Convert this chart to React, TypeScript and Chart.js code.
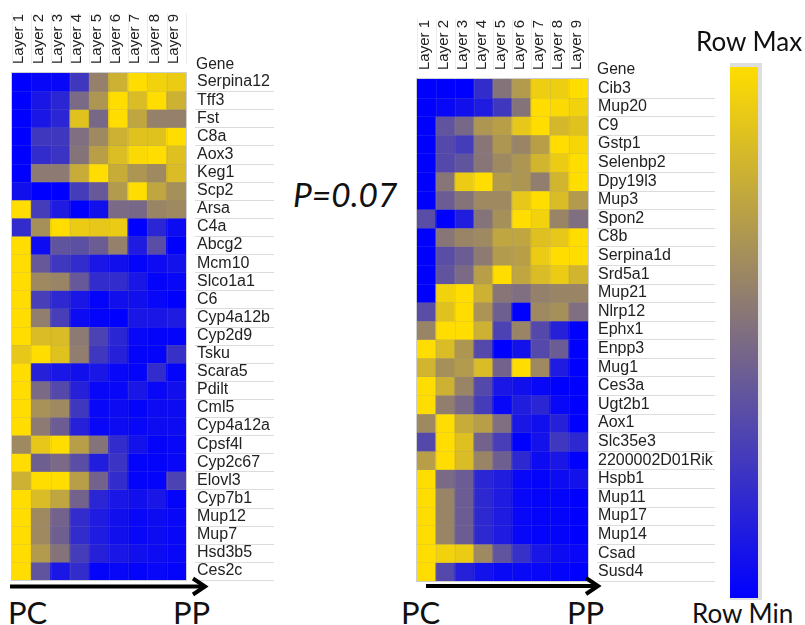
import React, { useEffect, useRef } from "react";
import { Chart, registerables } from "chart.js";

Chart.register(...registerables);

const layers = ["Layer 1", "Layer 2", "Layer 3", "Layer 4", "Layer 5", "Layer 6", "Layer 7", "Layer 8", "Layer 9"];

const leftGenes = ["Serpina12", "Tff3", "Fst", "C8a", "Aox3", "Keg1", "Scp2", "Arsa", "C4a", "Abcg2", "Mcm10", "Slco1a1", "C6", "Cyp4a12b", "Cyp2d9", "Tsku", "Scara5", "Pdilt", "Cml5", "Cyp4a12a", "Cpsf4l", "Cyp2c67", "Elovl3", "Cyp7b1", "Mup12", "Mup7", "Hsd3b5", "Ces2c"];

const leftValues = [
  [0, .03, .03, .25, .58, .8, 1, .95, .92],
  [0, .1, .17, .48, .68, 1, .85, 1, .8],
  [0, .1, .17, .88, .47, 1, .75, .58, .58],
  [0, .25, .25, .5, .62, .8, .88, .88, 1],
  [0, .2, .23, .52, .72, .86, .98, 1, .87],
  [0, .55, .55, .78, 1, .78, .68, .62, .85],
  [.07, 0, 0, .27, .4, .7, 1, .75, .65],
  [1, .27, .12, 0, .07, .48, .47, .6, .62],
  [.2, .65, 1, .92, .9, .92, 0, .17, .05],
  [1, .05, .38, .36, .42, .58, .12, .35, 0],
  [1, .4, .25, .2, .1, .07, .02, .05, .08],
  [1, .62, .6, .4, .2, .2, .1, .02, .03],
  [1, .28, .18, .1, .02, .07, .07, .03, 0],
  [1, .57, .28, .05, .02, 0, .1, .1, .12],
  [1, .85, .85, .55, .3, .17, .03, .02, .02],
  [.9, 1, .88, .57, .25, .15, .02, .02, .22],
  [1, .15, .1, .07, .1, .03, .02, .2, .02],
  [1, .48, .33, .15, .03, .03, .1, .03, .07],
  [1, .66, .62, .25, .03, .05, .02, .05, .05],
  [1, .55, .42, .15, .03, .05, .03, .05, .05],
  [.62, .9, 1, .72, .52, .2, .08, .02, .03],
  [1, .43, .48, .35, .13, .23, .02, .02, .03],
  [.8, 1, 1, .72, .45, .2, .02, .02, .3],
  [1, .85, .75, .45, .17, .1, .07, .1, .02],
  [1, .62, .45, .2, .12, .07, .03, .05, .03],
  [1, .62, .43, .2, .12, .07, .03, .05, .03],
  [1, .7, .52, .27, .15, .1, .07, .05, .03],
  [1, .38, .1, .2, .02, .03, .02, .03, .02],
];

const rightGenes = ["Cib3", "Mup20", "C9", "Gstp1", "Selenbp2", "Dpy19l3", "Mup3", "Spon2", "C8b", "Serpina1d", "Srd5a1", "Mup21", "Nlrp12", "Ephx1", "Enpp3", "Mug1", "Ces3a", "Ugt2b1", "Aox1", "Slc35e3", "2200002D01Rik", "Hspb1", "Mup11", "Mup17", "Mup14", "Csad", "Susd4"];

const rightValues = [
  [0, 0, 0, .2, .52, .7, .93, .93, 1],
  [0, .03, .07, .12, .25, .52, 1, .98, .95],
  [0, .38, .47, .68, .72, .9, 1, .83, .88],
  [0, .33, .27, .53, .68, .6, .72, 1, .97],
  [0, .33, .38, .53, .62, .68, .82, .92, 1],
  [0, .53, .92, 1, .7, .68, .57, .82, 1],
  [0, .42, .52, .62, .62, .9, 1, .85, .7],
  [.35, 0, .13, .52, .65, 1, .95, .6, .5],
  [0, .53, .6, .62, .75, .75, .87, .9, 1],
  [0, .35, .42, .55, .7, .72, .92, 1, 1],
  [0, .38, .48, .72, 1, .75, .85, .92, .82],
  [0, .95, 1, .8, .53, .5, .58, .6, .6],
  [.35, .88, 1, .67, .43, 0, .62, .65, .5],
  [.6, 1, 1, .8, .3, .6, .33, .15, 0],
  [1, .85, .68, .33, 0, .08, .33, .42, 0],
  [.82, .65, .7, .85, .45, 1, .62, .12, 0],
  [1, .8, .6, .33, .1, .07, .03, 0, 0],
  [1, .57, .47, .27, .03, .13, .17, .03, 0],
  [.62, 1, .78, .72, .5, .1, .07, .15, 0],
  [.33, 1, .87, .45, .28, 0, .08, .25, .18],
  [.72, 1, .85, .6, .43, .18, .05, .1, 0],
  [1, .48, .42, .17, .13, .03, .02, .05, .08],
  [1, .6, .42, .18, .12, .03, .02, .02, 0],
  [1, .6, .42, .18, .12, .03, .02, .02, 0],
  [1, .6, .42, .18, .12, .03, .02, .02, 0],
  [1, .95, .92, .62, .38, .22, .1, .05, .03],
  [1, .33, .15, .08, .04, .04, .03, .02, 0],
];

const BLUE = [0, 0, 255];
const YELLOW = [255, 221, 0];
const cellColor = (v: number) => {
  const c = BLUE.map((b, i) => Math.round(b + (YELLOW[i] - b) * v));
  return `rgb(${c[0]},${c[1]},${c[2]})`;
};

const UI_FONT = '"Liberation Sans", Arial, sans-serif';
const BIG_FONT = 'Lato, "Open Sans", sans-serif';

type HeatProps = {
  genes: string[];
  values: number[][];
  left: number;
  width: number;
  height: number;
  areaLeft: number;
  areaRight: number;
  areaTop: number;
  areaBottom: number;
  sepStart: number;
  sepEnd: number;
  labelPad: number;
  layerOffset: number;
};

const noPadding = (s: any) => {
  s.paddingLeft = 0;
  s.paddingRight = 0;
  s.paddingTop = 0;
  s.paddingBottom = 0;
};

function Heatmap(p: HeatProps) {
  const ref = useRef<HTMLCanvasElement | null>(null);
  useEffect(() => {
    if (!ref.current) return;
    const decor = {
      id: "decor",
      beforeDraw(chart: any) {
        const ctx = chart.ctx;
        const x = chart.scales.x;
        const a = chart.chartArea;
        ctx.save();
        ctx.lineWidth = 1;
        ctx.strokeStyle = "#dcdcdc";
        for (let i = 1; i <= p.genes.length; i++) {
          const y = Math.round(a.top + ((a.bottom - a.top) * i) / p.genes.length) + 0.5;
          ctx.beginPath();
          ctx.moveTo(p.sepStart, y);
          ctx.lineTo(p.sepEnd, y);
          ctx.stroke();
        }
        ctx.strokeStyle = "#ececec";
        for (let i = 0; i <= layers.length; i++) {
          const px = Math.round(x.getPixelForValue(i - 0.5)) + 0.5;
          ctx.beginPath();
          ctx.moveTo(px, a.top - 60);
          ctx.lineTo(px, a.top - 9);
          ctx.stroke();
        }
        ctx.restore();
      },
      afterDraw(chart: any) {
        const ctx = chart.ctx;
        const x = chart.scales.x;
        const yS = chart.scales.y;
        const a = chart.chartArea;
        ctx.save();
        ctx.lineWidth = 1;
        ctx.strokeStyle = "rgba(140,140,170,0.16)";
        for (let i = 1; i < layers.length; i++) {
          const px = Math.round(x.getPixelForValue(i - 0.5)) + 0.5;
          ctx.beginPath();
          ctx.moveTo(px, a.top);
          ctx.lineTo(px, a.bottom);
          ctx.stroke();
        }
        for (let i = 1; i < p.genes.length; i++) {
          const py = Math.round(yS.getPixelForValue(i)) + 0.5;
          ctx.beginPath();
          ctx.moveTo(a.left, py);
          ctx.lineTo(a.right, py);
          ctx.stroke();
        }
        ctx.strokeStyle = "#cfcfcf";
        ctx.strokeRect(a.left - 0.5, a.top - 0.5, a.right - a.left + 1, a.bottom - a.top + 1);
        ctx.restore();
      },
    };
    const chart = new Chart(ref.current, {
      type: "bar",
      data: {
        labels: layers,
        datasets: p.genes.map((g, r) => ({
          label: g,
          data: layers.map(() => 1),
          backgroundColor: p.values[r].map(cellColor),
          borderWidth: 0,
          inflateAmount: 0.5,
          barPercentage: 1,
          categoryPercentage: 1,
          xAxisID: "x",
          yAxisID: "y",
        })),
      },
      options: {
        responsive: false,
        animation: false,
        layout: { padding: { left: p.areaLeft, top: 0, right: 0, bottom: p.height - p.areaBottom } },
        plugins: { legend: { display: false }, tooltip: { enabled: false }, title: { display: false } },
        scales: {
          x: {
            type: "category",
            position: "top",
            stacked: true,
            grid: { display: false, drawTicks: false },
            border: { display: false },
            afterFit(s: any) { s.height = p.areaTop; noPadding(s); },
            ticks: {
              autoSkip: false,
              minRotation: 90,
              maxRotation: 90,
              padding: 9,
              labelOffset: p.layerOffset,
              color: "#222",
              font: { family: UI_FONT, size: 15 },
            },
          },
          y: {
            type: "linear",
            stacked: true,
            reverse: true,
            min: 0,
            max: p.genes.length,
            display: false,
          },
          gene: {
            type: "category",
            position: "right",
            labels: p.genes,
            offset: true,
            grid: { display: false, drawTicks: false },
            border: { display: false },
            afterFit(s: any) { s.width = p.width - p.areaRight; noPadding(s); },
            ticks: {
              autoSkip: false,
              padding: p.labelPad,
              color: "#222",
              font: { family: UI_FONT, size: 16 },
            },
          },
        },
      } as any,
      plugins: [decor],
    });
    return () => chart.destroy();
  }, []);
  return (
    <canvas
      ref={ref}
      width={p.width}
      height={p.height}
      style={{ position: "absolute", left: p.left, top: 0, filter: "blur(0.45px)" }}
    />
  );
}

const textStyle = (x: number, y: number, font: string, size: number, extra: any = {}) => ({
  position: "absolute" as const,
  left: x,
  top: y,
  fontFamily: font,
  fontSize: size,
  lineHeight: 1,
  color: "#111",
  whiteSpace: "nowrap" as const,
  ...extra,
});

export default function App() {
  return (
    <div style={{ position: "absolute", left: 0, top: 0, width: 805, height: 625, overflow: "hidden", background: "#fff" }}>
      <Heatmap genes={leftGenes} values={leftValues} left={0} width={280} height={590}
        areaLeft={12} areaRight={186} areaTop={73} areaBottom={580} sepStart={195} sepEnd={274} labelPad={11} layerOffset={15.5} />
      <Heatmap genes={rightGenes} values={rightValues} left={400} width={320} height={590}
        areaLeft={17} areaRight={188} areaTop={79} areaBottom={581} sepStart={197} sepEnd={315} labelPad={10} layerOffset={16} />

      <div style={textStyle(196, 56, UI_FONT, 15.6, { color: "#222" })}>Gene</div>
      <div style={textStyle(597, 61, UI_FONT, 15.6, { color: "#222" })}>Gene</div>

      <div style={textStyle(293, 178, BIG_FONT, 33.5, { fontStyle: "italic" })}>P=0.07</div>

      <div style={textStyle(696, 28, BIG_FONT, 26)}>Row Max</div>
      <div style={textStyle(692, 600, BIG_FONT, 26)}>Row Min</div>

      <div style={textStyle(8, 597, BIG_FONT, 31)}>PC</div>
      <div style={textStyle(173, 597, BIG_FONT, 31)}>PP</div>
      <div style={textStyle(401, 597, BIG_FONT, 31)}>PC</div>
      <div style={textStyle(567, 597, BIG_FONT, 31)}>PP</div>

      <svg width={805} height={625} style={{ position: "absolute", left: 0, top: 0 }}>
        <g fill="none" stroke="#000" strokeWidth={4}>
          <path d="M10 586.5H204" />
          <path d="M193 578.5L205 586.5L193 594.5" />
          <path d="M426 586H597" />
          <path d="M586 578L598 586L586 594" />
        </g>
      </svg>

      <div style={{ position: "absolute", left: 730, top: 63, width: 32, height: 537, background: "#dedede" }} />
      <div style={{ position: "absolute", left: 730, top: 67, width: 28, height: 531, background: "linear-gradient(to bottom, rgb(255,221,0), rgb(0,0,255))" }} />
    </div>
  );
}
